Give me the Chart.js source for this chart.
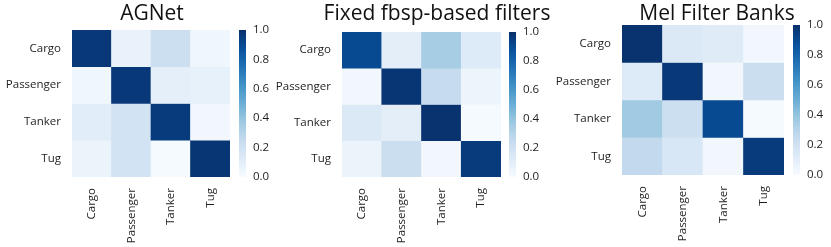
<!DOCTYPE html>
<html>
<head>
<meta charset="utf-8">
<script src="https://cdn.jsdelivr.net/npm/chart.js@4.4.0/dist/chart.umd.min.js"></script>
<style>
  body { margin: 0; background: #fff; }
  #wrap { position: relative; width: 831px; height: 247px; overflow: hidden; font-family: "Open Sans", sans-serif; }
  canvas { position: absolute; }
  .title { position: absolute; top: -1px; font-size: 21px; line-height: 26px; color: #111; white-space: nowrap; transform: translateX(-50%); }
</style>
</head>
<body>
<div id="wrap"></div>
<script>
// classes (rows = true label, columns = predicted)
const classes = ["Cargo", "Passenger", "Tanker", "Tug"];
const titles = ["AGNet", "Fixed fbsp-based filters", "Mel Filter Banks"];
const cbarTicks = [0, 0.2, 0.4, 0.6, 0.8, 1.0];

// normalised confusion matrices
const agnet = [
  [0.97, 0.07, 0.22, 0.04],
  [0.04, 0.97, 0.09, 0.08],
  [0.11, 0.19, 0.96, 0.03],
  [0.06, 0.19, 0.01, 0.98]
];
const fbsp = [
  [0.90, 0.10, 0.35, 0.13],
  [0.03, 0.98, 0.25, 0.05],
  [0.14, 0.10, 0.99, 0.01],
  [0.06, 0.23, 0.03, 0.96]
];
const mel = [
  [0.99, 0.14, 0.12, 0.03],
  [0.13, 0.97, 0.03, 0.23],
  [0.37, 0.22, 0.90, 0.01],
  [0.26, 0.16, 0.03, 0.96]
];
const matrices = [agnet, fbsp, mel];

// where each panel sits on the page
const panels = [
  { l: 72,  r: 230, t: 30, b: 177, tc: 152, cb: 239 },
  { l: 342, r: 501, t: 32, b: 177, tc: 437, cb: 509 },
  { l: 622, r: 784, t: 25, b: 175, tc: 717, cb: 793 }
];

// matplotlib "Blues"
const blues = ["#f7fbff", "#deebf7", "#c6dbef", "#9ecae1", "#6baed6", "#4292c6", "#2171b5", "#08519c", "#08306b"];
function hex(h) { return [1, 3, 5].map(i => parseInt(h.substr(i, 2), 16)); }
function blue(v) {
  v = Math.max(0, Math.min(1, v));
  const p = v * 8;
  const i = Math.min(7, Math.floor(p));
  const f = p - i;
  const a = hex(blues[i]), c = hex(blues[i + 1]);
  return "rgb(" + a.map((x, k) => Math.round(x + (c[k] - x) * f)).join(",") + ")";
}

Chart.defaults.font.family = "'Open Sans', sans-serif";
Chart.defaults.color = "#1e1e1e";

const wrap = document.getElementById("wrap");
const H = 247;

function addCanvas(left, width) {
  const cv = document.createElement("canvas");
  cv.width = width;
  cv.height = H;
  cv.style.left = left + "px";
  cv.style.top = "0px";
  wrap.appendChild(cv);
  return cv;
}

function heatmap(m, p) {
  const W = 70;
  const left = p.l - W;
  const cv = addCanvas(left, p.r - left + 4);
  new Chart(cv, {
    type: "bar",
    data: {
      labels: classes,
      datasets: m.map((row, i) => ({
        label: classes[i],
        data: row.map(() => 1),
        backgroundColor: row.map(blue),
        borderWidth: 0,
        barPercentage: 1,
        categoryPercentage: 1
      }))
    },
    options: {
      responsive: false,
      animation: false,
      devicePixelRatio: 1,
      layout: { padding: { top: p.t, right: 4, bottom: 0, left: 0 } },
      plugins: { legend: { display: false }, tooltip: { enabled: false } },
      scales: {
        x: {
          stacked: true,
          grid: { display: false, tickLength: 8 },
          border: { display: false },
          ticks: { minRotation: 90, maxRotation: 90, padding: 3, font: { size: 11.5 } },
          afterFit: s => { s.height = H - p.b; }
        },
        y: {
          type: "linear",
          stacked: true,
          reverse: true,
          min: 0,
          max: classes.length,
          grid: { display: false, tickLength: 8 },
          border: { display: false },
          afterBuildTicks: s => { s.ticks = classes.map((c, i) => ({ value: i + 0.5 })); },
          ticks: { callback: (v, i) => classes[i], padding: 3, font: { size: 11.5 } },
          afterFit: s => { s.width = W; }
        }
      }
    }
  });
}

function colorbar(p) {
  const cv = addCanvas(p.cb, 7 + 36);
  new Chart(cv, {
    type: "bar",
    data: {
      labels: [""],
      datasets: [{
        data: [1],
        borderWidth: 0,
        barPercentage: 1,
        categoryPercentage: 1,
        backgroundColor: ctx => {
          const a = ctx.chart.chartArea;
          if (!a) return blues[4];
          const g = ctx.chart.ctx.createLinearGradient(0, a.bottom, 0, a.top);
          for (let k = 0; k <= 20; k++) g.addColorStop(k / 20, blue(k / 20));
          return g;
        }
      }]
    },
    options: {
      responsive: false,
      animation: false,
      devicePixelRatio: 1,
      layout: { padding: { top: p.t, right: 0, bottom: H - p.b, left: 0 } },
      plugins: { legend: { display: false }, tooltip: { enabled: false } },
      scales: {
        x: { display: false },
        y: {
          position: "right",
          min: 0,
          max: 1,
          grid: { display: false, drawTicks: false },
          border: { display: false },
          afterBuildTicks: s => { s.ticks = cbarTicks.map(v => ({ value: v })); },
          ticks: { callback: v => v.toFixed(1), padding: 7, font: { size: 11.5 } },
          afterFit: s => { s.width = 36; }
        }
      }
    }
  });
}

panels.forEach((p, i) => {
  heatmap(matrices[i], p);
  colorbar(p);
  const t = document.createElement("div");
  t.className = "title";
  t.style.left = p.tc + "px";
  t.textContent = titles[i];
  wrap.appendChild(t);
});
</script>
</body>
</html>
